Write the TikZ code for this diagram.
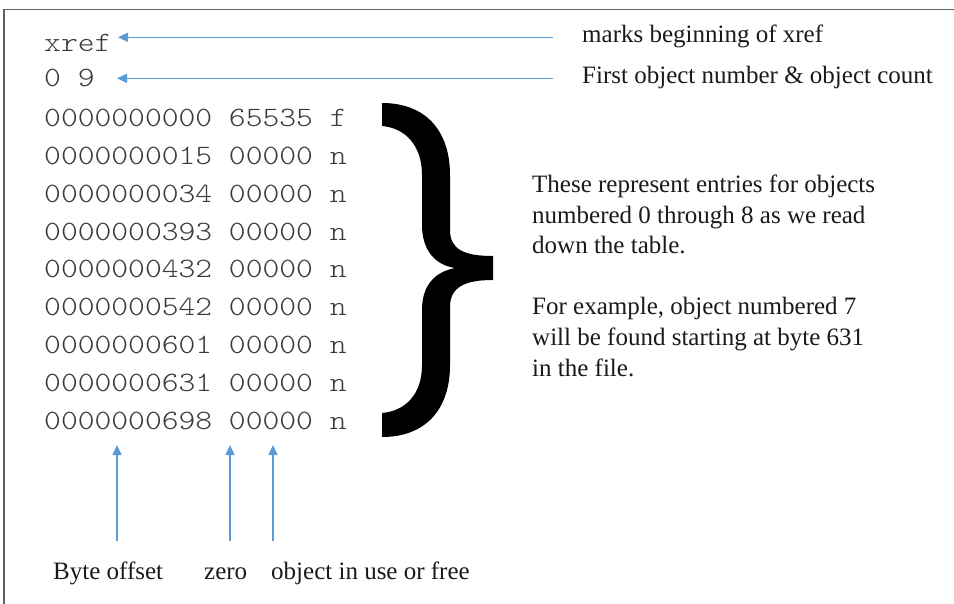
\documentclass[tikz,border=0pt]{standalone}
\usepackage{fontspec}
\setmainfont{Liberation Serif}
\setmonofont{lmmonolt10-regular.otf}[FakeStretch=1.143]
\usetikzlibrary{arrows.meta}
\definecolor{arrowblue}{HTML}{5B9BD5}
\definecolor{codegray}{HTML}{3A3A3A}
\definecolor{framegray}{HTML}{606060}
\definecolor{textblack}{HTML}{1A1A1A}
\begin{document}
\begin{tikzpicture}[x=1pt,y=-1pt,
  code/.style={anchor=base west, inner sep=0pt, font=\ttfamily\fontsize{28}{28}\selectfont, text=codegray},
  lbl/.style={anchor=base west, inner sep=0pt, font=\fontsize{25}{25}\selectfont, text=textblack},
  ptr/.style={draw=arrowblue, line width=1.5pt, -{Triangle[length=10pt,width=9pt]}},
  framebar/.style={draw=framegray, line width=1.5pt},
]
\useasboundingbox (0,0) rectangle (954,604);
% partial frame
\coordinate (fl) at (4,604);
\coordinate (fc) at (4,9.5);
\coordinate (fr) at (954,9.5);
\draw[framebar] (fl) -- (fc) -- (fr);

% code lines
\node[code] (xref) at (44,52) {xref};
\node[code] (hdr) at (44,87) {0 9};
\node[code] (r0) at (44,127) {0000000000 65535 f};
\node[code] (r1) at (44,164.75) {0000000015 00000 n};
\node[code] (r2) at (44,202.5) {0000000034 00000 n};
\node[code] (r3) at (44,240.25) {0000000393 00000 n};
\node[code] (r4) at (44,278) {0000000432 00000 n};
\node[code] (r5) at (44,315.75) {0000000542 00000 n};
\node[code] (r6) at (44,353.5) {0000000601 00000 n};
\node[code] (r7) at (44,391.25) {0000000631 00000 n};
\node[code] (r8) at (44,429) {0000000698 00000 n};

% top labels and arrows
\node[lbl] (lmark) at (582,43) {marks beginning of xref};
\node[lbl] (lfirst) at (582,84) {First object number \& object count};
\coordinate (a1s) at (553,37.3);
\coordinate (a1e) at (118,37.3);
\coordinate (a2s) at (553,78.3);
\coordinate (a2e) at (117,78.3);
\draw[ptr] (a1s) -- (a1e);
\draw[ptr] (a2s) -- (a2e);

% brace
\fill[black] (382,103)
  .. controls (425,103) and (450,130) .. (450,175)
  -- (450,230)
  .. controls (450,250) and (465,256) .. (493,256)
  -- (493,280)
  .. controls (465,280) and (450,287) .. (450,307)
  -- (450,365)
  .. controls (450,410) and (425,437) .. (382,437)
  -- (382,413)
  .. controls (405,411) and (422,395) .. (422,365)
  -- (422,310)
  .. controls (422,285) and (435,272) .. (455,268)
  .. controls (435,265) and (422,250) .. (422,225)
  -- (422,175)
  .. controls (422,145) and (405,128) .. (382,126)
  -- cycle;

% paragraph
\node[lbl] (p1) at (532,193) {These represent entries for objects};
\node[lbl] (p2) at (532,223.5) {numbered 0 through 8 as we read};
\node[lbl] (p3) at (532,254) {down the table.};
\node[lbl] (p4) at (532,315) {For example, object numbered 7};
\node[lbl] (p5) at (532,345.5) {will be found starting at byte 631};
\node[lbl] (p6) at (532,376) {in the file.};

% bottom labels and arrows
\node[lbl] (bbyte) at (53,579) {Byte offset};
\node[lbl] (bzero) at (204,579) {zero};
\node[lbl] (buse) at (271,579) {object in use or free};
\coordinate (b1s) at (117,541);
\coordinate (b1e) at (117,445);
\coordinate (b2s) at (230,541);
\coordinate (b2e) at (230,445);
\coordinate (b3s) at (273,541);
\coordinate (b3e) at (273,445);
\draw[ptr] (b1s) -- (b1e);
\draw[ptr] (b2s) -- (b2e);
\draw[ptr] (b3s) -- (b3e);
\end{tikzpicture}
\end{document}
